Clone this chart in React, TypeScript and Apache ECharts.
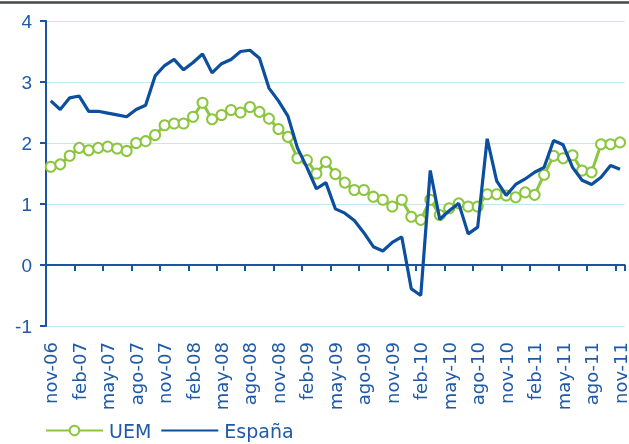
import React, { useEffect, useRef } from "react";
import * as echarts from "echarts";

const monthNames = ["ene", "feb", "mar", "abr", "may", "jun", "jul", "ago", "sep", "oct", "nov", "dic"];
// Monthly categories nov-06 .. nov-11
const categories: string[] = [];
for (let k = 0; k < 61; k++) {
  const m = (10 + k) % 12;
  const y = 6 + Math.floor((10 + k) / 12);
  categories.push(monthNames[m] + "-" + String(y).padStart(2, "0"));
}

const uem = [
  1.61, 1.65, 1.79, 1.92, 1.88, 1.92, 1.94, 1.91, 1.87, 2.0, 2.03, 2.13, 2.29, 2.32, 2.32, 2.43,
  2.66, 2.39, 2.46, 2.54, 2.5, 2.59, 2.51, 2.4, 2.23, 2.1, 1.75, 1.72, 1.5, 1.69, 1.49, 1.35,
  1.23, 1.23, 1.12, 1.07, 0.96, 1.07, 0.79, 0.74, 1.07, 0.82, 0.93, 1.01, 0.96, 0.96, 1.16, 1.16,
  1.14, 1.11, 1.19, 1.15, 1.48, 1.79, 1.75, 1.8, 1.55, 1.52, 1.98, 1.98, 2.01,
];

const espana = [
  2.69, 2.55, 2.74, 2.77, 2.52, 2.52, 2.49, 2.46, 2.43, 2.55, 2.62, 3.1, 3.27, 3.37, 3.2, 3.32,
  3.46, 3.15, 3.3, 3.37, 3.5, 3.52, 3.39, 2.9, 2.69, 2.44, 1.92, 1.6, 1.25, 1.35, 0.92, 0.85,
  0.73, 0.53, 0.3, 0.23, 0.37, 0.46, -0.39, -0.5, 1.55, 0.75, 0.89, 1.01, 0.51, 0.62, 2.07, 1.38,
  1.14, 1.32, 1.41, 1.52, 1.6, 2.04, 1.97, 1.6, 1.39, 1.32, 1.44, 1.63, 1.57,
];

const seriesNames = ["UEM", "España"];

const BLUE_TEXT = "#1f5aa8";
const AXIS_BLUE = "#1a54a2";
const GRID_BLUE = "#c4e7f8";
const LINE_BLUE = "#0c4f9f";
const GREEN = "#8cc63f";
const FONT = "'Liberation Sans', Arial, sans-serif";
const WIDE_FONT = "'DejaVu Sans', Verdana, sans-serif";

export default function App() {
  const ref = useRef<HTMLDivElement>(null);
  useEffect(() => {
    if (!ref.current) return;
    const chart = echarts.init(ref.current, null, { renderer: "svg" });
    chart.setOption({
      animation: false,
      textStyle: { fontFamily: FONT },
      grid: { left: 46, right: 3, top: 21, bottom: 118, containLabel: false },
      graphic: [
        {
          type: "line",
          shape: { x1: 0, y1: 2.5, x2: 629, y2: 2.5 },
          style: { stroke: "#45474a", lineWidth: 2.5 },
        },
      ],
      legend: {
        data: seriesNames,
        left: 45,
        top: 421,
        padding: 0,
        itemWidth: 57,
        itemHeight: 12,
        itemGap: 9,
        textStyle: { fontSize: 19, color: BLUE_TEXT, fontFamily: WIDE_FONT, padding: [0, 0, 0, 1] },
      },
      xAxis: [
        {
          type: "category",
          data: categories,
          position: "top",
          boundaryGap: true,
          axisLine: { show: true, onZero: true, lineStyle: { color: AXIS_BLUE, width: 2 } },
          axisTick: { show: true, interval: 2, inside: true, length: 6, lineStyle: { color: AXIS_BLUE, width: 2 } },
          axisLabel: { show: false },
          splitLine: { show: false },
        },
        {
          type: "category",
          data: categories,
          position: "bottom",
          boundaryGap: true,
          axisLine: { show: false, onZero: false },
          axisTick: { show: false },
          axisLabel: {
            show: true,
            interval: 2,
            rotate: 90,
            margin: 16,
            fontSize: 18,
            color: BLUE_TEXT,
            fontFamily: WIDE_FONT,
          },
          splitLine: { show: false },
        },
      ],
      yAxis: {
        type: "value",
        min: -1,
        max: 4,
        interval: 1,
        axisLine: { show: true, lineStyle: { color: AXIS_BLUE, width: 2 } },
        axisTick: { show: true, length: 6, lineStyle: { color: AXIS_BLUE, width: 2 } },
        axisLabel: { fontSize: 19, color: BLUE_TEXT, margin: 14, fontFamily: FONT },
        splitLine: { show: true, lineStyle: { color: GRID_BLUE, width: 1 } },
      },
      series: [
        {
          name: seriesNames[0],
          type: "line",
          xAxisIndex: 0,
          data: uem,
          symbol: "circle",
          symbolSize: 10,
          showAllSymbol: true,
          lineStyle: { color: GREEN, width: 3 },
          itemStyle: { color: "#ffffff", borderColor: GREEN, borderWidth: 2 },
          z: 2,
        },
        {
          name: seriesNames[1],
          type: "line",
          xAxisIndex: 0,
          data: espana,
          symbol: "none",
          lineStyle: { color: LINE_BLUE, width: 3.2 },
          itemStyle: { color: "rgba(0,0,0,0)", borderWidth: 0 },
          z: 3,
        },
      ],
    });
    return () => chart.dispose();
  }, []);
  return (
    <div
      ref={ref}
      style={{ position: "fixed", left: 0, top: 0, width: 629, height: 444 }}
    />
  );
}
